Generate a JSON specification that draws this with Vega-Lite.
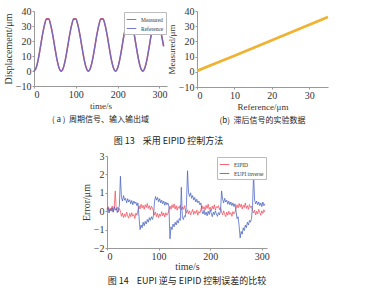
{
"$schema": "https://vega.github.io/schema/vega-lite/v6.json",
"background": "white",
"padding": {"left": 3, "top": 6, "right": 0, "bottom": 0},
"config": {
  "font": "Liberation Serif",
  "view": {"stroke": null},
  "axis": {"grid": false, "domainColor": "#999", "tickColor": "#999", "tickSize": 2, "labelFontSize": 10, "titleFontSize": 9, "labelColor": "#333", "titleColor": "#333", "titleFontWeight": "normal", "labelPadding": 1, "titlePadding": 2},
  "legend": {"title": null, "orient": "top-right", "offset": 1, "labelFontSize": 5.5, "symbolType": "stroke", "symbolSize": 90, "symbolStrokeWidth": 1, "strokeColor": "#bbb", "padding": 2, "rowPadding": 0, "labelLimit": 80, "fillColor": "white", "labelColor": "#333"},
  "title": {"font": "Noto Sans CJK SC", "fontWeight": "normal", "color": "#222", "anchor": "middle"}
},
"resolve": {"scale": {"color": "independent"}, "legend": {"color": "independent"}},
"spacing": 5,
"vconcat": [
{
  "title": {"text": "图 13\u00a0\u00a0\u00a0\u00a0采用 EIPID 控制方法", "orient": "bottom", "fontSize": 9, "offset": 12, "anchor": "middle"},
  "spacing": 0,
  "resolve": {"scale": {"color": "independent"}, "legend": {"color": "independent"}},
  "hconcat": [
  {
    "width": 133, "height": 75,
    "title": {"text": "(\u00a0a\u00a0)\u00a0\u00a0周期信号、输入输出域", "orient": "bottom", "fontSize": 8, "offset": 6},
    "data": {"values": [
      {"t":0,"Measured":-0.2,"Reference":0},{"t":5,"Measured":2.0,"Reference":2.0},{"t":10,"Measured":7.56,"Reference":7.56},{"t":15,"Measured":15.39,"Reference":15.39},{"t":20,"Measured":23.71,"Reference":23.71},{"t":25,"Measured":30.6,"Reference":30.6},{"t":30,"Measured":34.8,"Reference":34.49},{"t":35,"Measured":34.8,"Reference":34.49},{"t":40,"Measured":30.6,"Reference":30.6},{"t":45,"Measured":23.71,"Reference":23.71},{"t":50,"Measured":15.39,"Reference":15.39},{"t":55,"Measured":7.56,"Reference":7.56},{"t":60,"Measured":2.0,"Reference":2.0},
      {"t":65,"Measured":-0.2,"Reference":0},{"t":70,"Measured":2.0,"Reference":2.0},{"t":75,"Measured":7.56,"Reference":7.56},{"t":80,"Measured":15.39,"Reference":15.39},{"t":85,"Measured":23.71,"Reference":23.71},{"t":90,"Measured":30.6,"Reference":30.6},{"t":95,"Measured":34.8,"Reference":34.49},{"t":100,"Measured":34.8,"Reference":34.49},{"t":105,"Measured":30.6,"Reference":30.6},{"t":110,"Measured":23.71,"Reference":23.71},{"t":115,"Measured":15.39,"Reference":15.39},{"t":120,"Measured":7.56,"Reference":7.56},{"t":125,"Measured":2.0,"Reference":2.0},
      {"t":130,"Measured":-0.2,"Reference":0},{"t":135,"Measured":2.0,"Reference":2.0},{"t":140,"Measured":7.56,"Reference":7.56},{"t":145,"Measured":15.39,"Reference":15.39},{"t":150,"Measured":23.71,"Reference":23.71},{"t":155,"Measured":30.6,"Reference":30.6},{"t":160,"Measured":34.8,"Reference":34.49},{"t":165,"Measured":34.8,"Reference":34.49},{"t":170,"Measured":30.6,"Reference":30.6},{"t":175,"Measured":23.71,"Reference":23.71},{"t":180,"Measured":15.39,"Reference":15.39},{"t":185,"Measured":7.56,"Reference":7.56},{"t":190,"Measured":2.0,"Reference":2.0},
      {"t":195,"Measured":-0.2,"Reference":0},{"t":200,"Measured":2.0,"Reference":2.0},{"t":205,"Measured":7.56,"Reference":7.56},{"t":210,"Measured":15.39,"Reference":15.39},{"t":215,"Measured":23.71,"Reference":23.71},{"t":220,"Measured":30.6,"Reference":30.6},{"t":225,"Measured":34.8,"Reference":34.49},{"t":230,"Measured":34.8,"Reference":34.49},{"t":235,"Measured":30.6,"Reference":30.6},{"t":240,"Measured":23.71,"Reference":23.71},{"t":245,"Measured":15.39,"Reference":15.39},{"t":250,"Measured":7.56,"Reference":7.56},{"t":255,"Measured":2.0,"Reference":2.0},
      {"t":260,"Measured":-0.2,"Reference":0},{"t":265,"Measured":2.0,"Reference":2.0},{"t":270,"Measured":7.56,"Reference":7.56},{"t":275,"Measured":15.39,"Reference":15.39},{"t":280,"Measured":23.71,"Reference":23.71},{"t":285,"Measured":30.6,"Reference":30.6},{"t":290,"Measured":34.8,"Reference":34.49},{"t":295,"Measured":34.8,"Reference":34.49},{"t":300,"Measured":30.6,"Reference":30.6},{"t":305,"Measured":23.71,"Reference":23.71},{"t":310,"Measured":16.5,"Reference":16.5}
    ]},
    "transform": [{"fold": ["Measured", "Reference"], "as": ["series", "value"]}],
    "mark": {"type": "line", "strokeWidth": 1.4, "interpolate": "monotone", "opacity": 0.9},
    "encoding": {
      "x": {"field": "t", "type": "quantitative", "scale": {"domain": [0, 318], "nice": false}, "axis": {"values": [0, 100, 200, 300], "title": "time/s"}},
      "y": {"field": "value", "type": "quantitative", "scale": {"domain": [-10, 40], "nice": false}, "axis": {"values": [-10, 0, 10, 20, 30, 40], "title": "Displacement/μm", "titleFontSize": 10}},
      "color": {"field": "series", "type": "nominal", "scale": {"domain": ["Measured", "Reference"], "range": ["#e8404a", "#6a6ac4"]}, "legend": {"orient": "top-right"}}
    }
  },
  {
    "width": 131, "height": 76,
    "title": {"text": "(b)\u00a0\u00a0滞后信号的实验数据", "orient": "bottom", "fontSize": 8, "offset": 6},
    "data": {"values": [
      {"reference": 0, "measured": 0.6}, {"reference": 5, "measured": 5.6}, {"reference": 10, "measured": 10.6}, {"reference": 15, "measured": 15.7}, {"reference": 20, "measured": 20.8}, {"reference": 25, "measured": 25.9}, {"reference": 30, "measured": 31.0}, {"reference": 35, "measured": 36.1}
    ]},
    "mark": {"type": "line", "color": "#f0b232", "strokeWidth": 2.8},
    "encoding": {
      "x": {"field": "reference", "type": "quantitative", "scale": {"domain": [0, 35], "nice": false}, "axis": {"values": [0, 10, 20, 30], "title": "Reference/μm"}},
      "y": {"field": "measured", "type": "quantitative", "scale": {"domain": [-10, 40], "nice": false}, "axis": {"values": [-10, 0, 10, 20, 30, 40], "title": "Measured/μm"}}
    }
  }
  ]
},
{
  "spacing": 0,
  "resolve": {"scale": {"color": "independent"}, "legend": {"color": "independent"}},
  "hconcat": [
  {
    "width": 47, "height": 10,
    "data": {"values": []},
    "mark": "point"
  },
  {
  "width": 160, "height": 92,
  "title": {"text": "图 14\u00a0\u00a0\u00a0\u00a0EUPI 逆与 EIPID 控制误差的比较", "orient": "bottom", "fontSize": 9, "offset": 6},
  "data": {"values": [
    {"t":0,"EIPID":0.12,"EUPI inverse":0.05},{"t":2,"EIPID":0.25,"EUPI inverse":0.2},{"t":4,"EIPID":-0.02,"EUPI inverse":-0.1},{"t":6,"EIPID":0.18,"EUPI inverse":0.12},{"t":8,"EIPID":0.05,"EUPI inverse":0.0},{"t":10,"EIPID":0.28,"EUPI inverse":0.18},{"t":12,"EIPID":-0.05,"EUPI inverse":-0.05},{"t":14,"EIPID":0.2,"EUPI inverse":0.25},{"t":16,"EIPID":1.1,"EUPI inverse":0.05},{"t":18,"EIPID":0.08,"EUPI inverse":0.15},
    {"t":20,"EIPID":0.22,"EUPI inverse":-0.08},{"t":22,"EIPID":-0.04,"EUPI inverse":0.1},{"t":24,"EIPID":0.15,"EUPI inverse":0.3},{"t":26,"EIPID":0.0,"EUPI inverse":1.9},{"t":28,"EIPID":-0.28,"EUPI inverse":0.75},{"t":30,"EIPID":-0.1,"EUPI inverse":0.55},{"t":32,"EIPID":-0.35,"EUPI inverse":0.85},{"t":34,"EIPID":-0.15,"EUPI inverse":0.6},{"t":36,"EIPID":-0.3,"EUPI inverse":0.7},{"t":38,"EIPID":-0.05,"EUPI inverse":0.45},
    {"t":40,"EIPID":-0.25,"EUPI inverse":0.68},{"t":42,"EIPID":-0.38,"EUPI inverse":0.5},{"t":44,"EIPID":-0.12,"EUPI inverse":0.62},{"t":46,"EIPID":-0.3,"EUPI inverse":0.4},{"t":48,"EIPID":-0.08,"EUPI inverse":0.58},{"t":50,"EIPID":-0.27,"EUPI inverse":0.35},{"t":52,"EIPID":-0.18,"EUPI inverse":0.55},{"t":54,"EIPID":-0.4,"EUPI inverse":0.42},{"t":56,"EIPID":-0.1,"EUPI inverse":0.5},{"t":58,"EIPID":-0.22,"EUPI inverse":0.3},
    {"t":60,"EIPID":0.05,"EUPI inverse":0.45},{"t":62,"EIPID":0.3,"EUPI inverse":-0.3},{"t":64,"EIPID":0.12,"EUPI inverse":-1.0},{"t":66,"EIPID":0.38,"EUPI inverse":-0.75},{"t":68,"EIPID":0.18,"EUPI inverse":-0.9},{"t":70,"EIPID":0.32,"EUPI inverse":-0.6},{"t":72,"EIPID":0.1,"EUPI inverse":-0.8},{"t":74,"EIPID":0.35,"EUPI inverse":-0.55},{"t":76,"EIPID":0.2,"EUPI inverse":-0.7},{"t":78,"EIPID":0.42,"EUPI inverse":-0.45},
    {"t":80,"EIPID":0.15,"EUPI inverse":-0.6},{"t":82,"EIPID":0.3,"EUPI inverse":-0.35},{"t":84,"EIPID":0.08,"EUPI inverse":-0.5},{"t":86,"EIPID":0.28,"EUPI inverse":-0.3},{"t":88,"EIPID":0.16,"EUPI inverse":-0.45},{"t":90,"EIPID":0.02,"EUPI inverse":-0.25},{"t":92,"EIPID":-0.2,"EUPI inverse":0.5},{"t":94,"EIPID":-0.05,"EUPI inverse":0.8},{"t":96,"EIPID":-0.3,"EUPI inverse":0.6},{"t":98,"EIPID":-0.12,"EUPI inverse":0.75},
    {"t":100,"EIPID":-0.35,"EUPI inverse":0.5},{"t":102,"EIPID":-0.15,"EUPI inverse":0.68},{"t":104,"EIPID":-0.28,"EUPI inverse":0.45},{"t":106,"EIPID":-0.02,"EUPI inverse":0.6},{"t":108,"EIPID":-0.25,"EUPI inverse":0.4},{"t":110,"EIPID":-0.1,"EUPI inverse":0.55},{"t":112,"EIPID":-0.32,"EUPI inverse":0.32},{"t":114,"EIPID":-0.08,"EUPI inverse":0.5},{"t":116,"EIPID":-0.22,"EUPI inverse":0.35},{"t":118,"EIPID":-0.12,"EUPI inverse":0.45},
    {"t":120,"EIPID":0.05,"EUPI inverse":0.25},{"t":122,"EIPID":0.28,"EUPI inverse":-1.5},{"t":124,"EIPID":0.1,"EUPI inverse":-0.85},{"t":126,"EIPID":0.35,"EUPI inverse":-1.0},{"t":128,"EIPID":0.18,"EUPI inverse":-0.7},{"t":130,"EIPID":0.4,"EUPI inverse":-0.85},{"t":132,"EIPID":0.12,"EUPI inverse":-0.6},{"t":134,"EIPID":0.3,"EUPI inverse":-0.75},{"t":136,"EIPID":0.05,"EUPI inverse":-0.5},{"t":138,"EIPID":0.25,"EUPI inverse":-0.65},
    {"t":140,"EIPID":0.15,"EUPI inverse":-0.4},{"t":142,"EIPID":0.33,"EUPI inverse":-0.5},{"t":144,"EIPID":0.08,"EUPI inverse":1.3},{"t":146,"EIPID":0.22,"EUPI inverse":-0.35},{"t":148,"EIPID":0.1,"EUPI inverse":-0.45},{"t":150,"EIPID":0.3,"EUPI inverse":-0.25},{"t":152,"EIPID":0.05,"EUPI inverse":-0.3},{"t":154,"EIPID":-0.1,"EUPI inverse":0.4},{"t":156,"EIPID":0.08,"EUPI inverse":2.2},{"t":158,"EIPID":-0.15,"EUPI inverse":1.0},
    {"t":160,"EIPID":0.02,"EUPI inverse":0.8},{"t":162,"EIPID":-0.2,"EUPI inverse":1.0},{"t":164,"EIPID":-0.05,"EUPI inverse":0.7},{"t":166,"EIPID":0.1,"EUPI inverse":0.85},{"t":168,"EIPID":-0.18,"EUPI inverse":0.6},{"t":170,"EIPID":0.0,"EUPI inverse":0.75},{"t":172,"EIPID":-0.12,"EUPI inverse":0.5},{"t":174,"EIPID":0.06,"EUPI inverse":0.65},{"t":176,"EIPID":-0.22,"EUPI inverse":0.45},{"t":178,"EIPID":-0.02,"EUPI inverse":0.55},
    {"t":180,"EIPID":-0.1,"EUPI inverse":0.35},{"t":182,"EIPID":0.1,"EUPI inverse":0.45},{"t":184,"EIPID":0.3,"EUPI inverse":0.0},{"t":186,"EIPID":0.12,"EUPI inverse":-0.15},{"t":188,"EIPID":0.25,"EUPI inverse":0.05},{"t":190,"EIPID":0.05,"EUPI inverse":-0.2},{"t":192,"EIPID":0.32,"EUPI inverse":-0.05},{"t":194,"EIPID":0.15,"EUPI inverse":-0.25},{"t":196,"EIPID":0.38,"EUPI inverse":0.0},{"t":198,"EIPID":0.1,"EUPI inverse":-0.18},
    {"t":200,"EIPID":0.22,"EUPI inverse":0.08},{"t":202,"EIPID":0.02,"EUPI inverse":-0.12},{"t":204,"EIPID":0.28,"EUPI inverse":-0.3},{"t":206,"EIPID":0.12,"EUPI inverse":-0.05},{"t":208,"EIPID":0.35,"EUPI inverse":-0.2},{"t":210,"EIPID":0.06,"EUPI inverse":0.02},{"t":212,"EIPID":0.25,"EUPI inverse":-0.15},{"t":214,"EIPID":0.18,"EUPI inverse":-0.28},{"t":216,"EIPID":0.3,"EUPI inverse":-0.08},{"t":218,"EIPID":0.08,"EUPI inverse":-0.2},
    {"t":220,"EIPID":0.2,"EUPI inverse":0.05},{"t":222,"EIPID":-0.05,"EUPI inverse":1.1},{"t":224,"EIPID":-0.2,"EUPI inverse":0.65},{"t":226,"EIPID":0.02,"EUPI inverse":0.45},{"t":228,"EIPID":-0.15,"EUPI inverse":0.7},{"t":230,"EIPID":-0.3,"EUPI inverse":0.5},{"t":232,"EIPID":-0.05,"EUPI inverse":0.6},{"t":234,"EIPID":-0.22,"EUPI inverse":0.38},{"t":236,"EIPID":0.0,"EUPI inverse":0.55},{"t":238,"EIPID":-0.18,"EUPI inverse":0.35},
    {"t":240,"EIPID":-0.08,"EUPI inverse":0.5},{"t":242,"EIPID":-0.28,"EUPI inverse":0.3},{"t":244,"EIPID":-0.02,"EUPI inverse":0.45},{"t":246,"EIPID":-0.15,"EUPI inverse":0.25},{"t":248,"EIPID":-0.05,"EUPI inverse":0.4},{"t":250,"EIPID":0.15,"EUPI inverse":0.0},{"t":252,"EIPID":0.35,"EUPI inverse":-0.4},{"t":254,"EIPID":0.18,"EUPI inverse":-0.3},{"t":256,"EIPID":0.42,"EUPI inverse":-0.8},{"t":258,"EIPID":0.22,"EUPI inverse":-1.45},
    {"t":260,"EIPID":0.38,"EUPI inverse":-1.1},{"t":262,"EIPID":0.12,"EUPI inverse":-1.25},{"t":264,"EIPID":0.33,"EUPI inverse":-0.9},{"t":266,"EIPID":0.2,"EUPI inverse":-1.05},{"t":268,"EIPID":0.45,"EUPI inverse":-0.75},{"t":270,"EIPID":0.15,"EUPI inverse":-0.9},{"t":272,"EIPID":0.3,"EUPI inverse":-0.6},{"t":274,"EIPID":0.1,"EUPI inverse":-0.75},{"t":276,"EIPID":0.36,"EUPI inverse":-0.5},{"t":278,"EIPID":0.2,"EUPI inverse":-0.6},
    {"t":280,"EIPID":0.28,"EUPI inverse":-0.4},{"t":282,"EIPID":0.05,"EUPI inverse":0.3},{"t":284,"EIPID":-0.1,"EUPI inverse":2.0},{"t":286,"EIPID":0.05,"EUPI inverse":0.6},{"t":288,"EIPID":-0.2,"EUPI inverse":0.4},{"t":290,"EIPID":0.0,"EUPI inverse":0.55},{"t":292,"EIPID":-0.15,"EUPI inverse":0.35},{"t":294,"EIPID":0.1,"EUPI inverse":0.5},{"t":296,"EIPID":-0.08,"EUPI inverse":0.3},{"t":298,"EIPID":-0.22,"EUPI inverse":0.45},
    {"t":300,"EIPID":0.02,"EUPI inverse":0.25},{"t":302,"EIPID":-0.12,"EUPI inverse":0.5},{"t":304,"EIPID":0.08,"EUPI inverse":0.3},{"t":306,"EIPID":-0.05,"EUPI inverse":0.4}
  ]},
  "transform": [{"fold": ["EIPID", "EUPI inverse"], "as": ["series", "value"]}],
  "mark": {"type": "line", "strokeWidth": 0.9, "opacity": 0.85},
  "encoding": {
    "x": {"field": "t", "type": "quantitative", "scale": {"domain": [0, 310], "nice": false}, "axis": {"values": [0, 100, 200, 300], "title": "time/s", "titleFontSize": 10, "titlePadding": 0}},
    "y": {"field": "value", "type": "quantitative", "scale": {"domain": [-2, 3], "nice": false}, "axis": {"values": [-2, -1, 0, 1, 2, 3], "title": "Error/μm", "titleFontSize": 10}},
    "color": {"field": "series", "type": "nominal", "scale": {"domain": ["EIPID", "EUPI inverse"], "range": ["#f0505e", "#4a62c0"]}, "legend": {"orient": "top-right"}}
  }
  }
  ]
}
]
}
